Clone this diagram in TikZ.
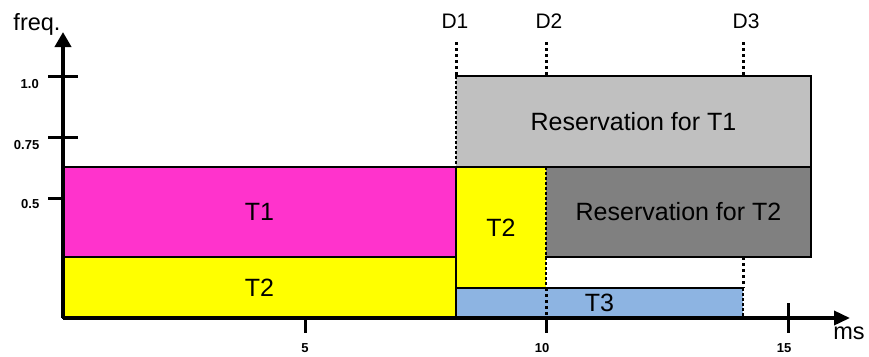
\documentclass[tikz,border=0pt]{standalone}
\usepackage{fontspec}
\setmainfont{Liberation Sans}
\usetikzlibrary{arrows.meta}
\definecolor{resone}{HTML}{C0C0C0}
\definecolor{restwo}{HTML}{808080}
\definecolor{tonefill}{HTML}{FF33CC}
\definecolor{ttwofill}{HTML}{FFFF00}
\definecolor{tthreefill}{HTML}{8DB4E2}
\tikzset{
  box/.style={anchor=north west, inner sep=0pt, outer sep=0pt, draw=none,
    font=\fontsize{25}{30}\selectfont},
  solidedge/.style={line width=2.7pt, line cap=rect, line join=miter},
  thindash/.style={line width=1.2pt, dash pattern=on 3pt off 2pt},
  thickdot/.style={line width=3pt, dash pattern=on 3pt off 3pt},
  axisline/.style={line width=3.5pt},
  tickline/.style={line width=3pt},
  biglabel/.style={anchor=base, inner sep=0pt, font=\fontsize{21}{25}\selectfont},
  ticklabel/.style={inner sep=0pt, font=\fontsize{13}{15}\selectfont\bfseries},
}
\begin{document}
\begin{tikzpicture}[x=1pt, y=-1pt]
\useasboundingbox (0,0) rectangle (869,356);

% boxes
\node[box, fill=resone, minimum width=355pt, minimum height=91pt] (res1) at (456,76) {Reservation for T1};
\node[box, fill=tonefill, minimum width=393pt, minimum height=90pt] (t1) at (63,167) {T1};
\node[box, fill=ttwofill, minimum width=393pt, minimum height=61pt] (t2a) at (63,257) {T2};
\node[box, fill=ttwofill, minimum width=90pt, minimum height=121pt] (t2b) at (456,167) {T2};
\node[box, fill=restwo, minimum width=265pt, minimum height=90pt] (res2) at (546,167) {Reservation for T2};
\node[box, fill=tthreefill, minimum width=287pt, minimum height=30pt] (t3) at (456,288) {T3};

% thin dashed edges
\draw[thindash] (res1.north west) -- (res1.south west);
\draw[thindash] (t2b.north east) -- (t2b.south east);
\draw[thindash] (t3.north east) -- (t3.south east);

% solid edges
\draw[solidedge] (res1.north west) -- (res1.north east) -- (res1.south east) -- (res1.south west);
\draw[solidedge] (t1.north west) rectangle (t1.south east);
\draw[solidedge] (t2a.north west) rectangle (t2a.south east);
\draw[solidedge] (res2.north east) -- (res2.south east) -- (res2.south west);
\draw[solidedge] (t3.north west) -- (t3.north east);
\draw[solidedge] (t2b.south west) -- (t2a.south east);

% deadline markers
\coordinate (d1top) at (456,42);
\coordinate (d2top) at (546,42);
\coordinate (d2bot) at (546,76);
\coordinate (d3top) at (743,42);
\coordinate (d3bot) at (743,76);
\draw[thickdot] (d1top) -- (res1.north west);
\draw[thickdot] (d2top) -- (d2bot);
\draw[thickdot] (d3top) -- (d3bot);
\draw[thickdot] (t2b.south east) -- (t2b.south east |- t3.south);
\draw[thickdot] (res2.south west -| t3.north east) -- (t3.north east);

\node[biglabel] (lD1) at (455,28) {D1};
\node[biglabel] (lD2) at (549,28) {D2};
\node[biglabel] (lD3) at (746,28) {D3};

% axes
\coordinate (O) at (63,318);
\coordinate (ytip) at (63,32);
\coordinate (xtip) at (850,318);
\draw[axisline, line width=4pt, -{Triangle[length=15pt,width=16pt]}] (O) -- (ytip);
\draw[axisline, -{Triangle[length=16pt,width=14pt]}] (O) -- (xtip);

\node[biglabel, font=\fontsize{23.5}{27}\selectfont] (lfreq) at (37,30) {freq.};
\node[biglabel, font=\fontsize{23.5}{27}\selectfont] (lms) at (849,339) {ms};

% y ticks
\draw[tickline] (48,76) -- (78,76);
\draw[tickline] (48,137) -- (78,137);
\draw[tickline] (48,198) -- (63,198);
\node[ticklabel, anchor=base east] (y1) at (39,88) {1.0};
\node[ticklabel, anchor=base east] (y2) at (39.5,149) {0.75};
\node[ticklabel, anchor=base east] (y3) at (39.5,208) {0.5};

% x ticks
\draw[tickline] (305,318) -- (305,333);
\draw[tickline] (546,318) -- (546,333);
\draw[tickline] (788,303) -- (788,333);
\node[ticklabel, anchor=base] (x1) at (305,352) {5};
\node[ticklabel, anchor=base] (x2) at (542,352) {10};
\node[ticklabel, anchor=base] (x3) at (784,352) {15};
\end{tikzpicture}
\end{document}
